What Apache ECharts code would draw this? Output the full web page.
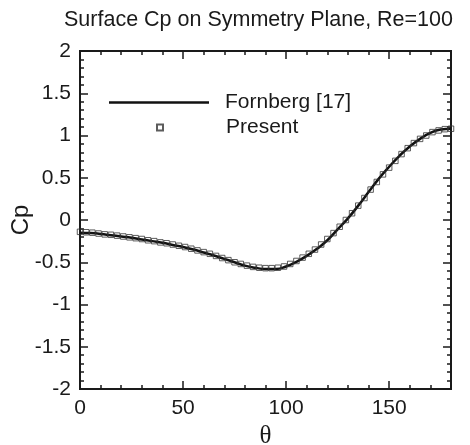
<!DOCTYPE html>
<html>
<head>
<meta charset="utf-8">
<script src="https://cdn.jsdelivr.net/npm/echarts@6/dist/echarts.min.js"></script>
<style>
html,body{margin:0;padding:0;background:#fff;}
#chart{width:470px;height:445px;}
</style>
</head>
<body>
<div id="chart"></div>
<script>
// Fornberg [17] 曲线 (每5度)
var lineTheta = [0,5,10,15,20,25,30,35,40,45,50,55,60,65,70,75,80,85,90,95,100,105,110,115,120,125,130,135,140,145,150,155,160,165,170,175,180];
var lineCp = [-0.15,-0.155,-0.165,-0.18,-0.195,-0.21,-0.23,-0.25,-0.27,-0.295,-0.32,-0.35,-0.385,-0.42,-0.46,-0.50,-0.54,-0.565,-0.58,-0.58,-0.55,-0.495,-0.425,-0.34,-0.24,-0.11,0.02,0.17,0.33,0.49,0.63,0.76,0.87,0.96,1.03,1.07,1.08];
// Present 结果 (每3度)
var presentTheta = [0,3,6,9,12,15,18,21,24,27,30,33,36,39,42,45,48,51,54,57,60,63,66,69,72,75,78,81,84,87,90,93,96,99,102,105,108,111,114,117,120,123,126,129,132,135,138,141,144,147,150,153,156,159,162,165,168,171,174,177,180];
var presentCp = [-0.14,-0.145,-0.15,-0.16,-0.17,-0.175,-0.185,-0.195,-0.205,-0.215,-0.225,-0.24,-0.25,-0.265,-0.275,-0.29,-0.305,-0.32,-0.34,-0.36,-0.38,-0.4,-0.425,-0.45,-0.475,-0.5,-0.52,-0.54,-0.555,-0.565,-0.57,-0.57,-0.565,-0.55,-0.52,-0.485,-0.445,-0.4,-0.35,-0.29,-0.225,-0.155,-0.08,0.0,0.08,0.17,0.26,0.36,0.45,0.54,0.62,0.7,0.78,0.85,0.91,0.96,1.0,1.04,1.06,1.075,1.08];
var xTicks = {min: 0, max: 180, major: 50, minor: 10};
var yTicks = {min: -2, max: 2, major: 0.5, minor: 0.1};

var font = '"Liberation Sans", Arial, sans-serif';
var axisColor = '#1a1a1a';

function zip(a, b) {
    var out = [];
    for (var i = 0; i < a.length; i++) out.push([a[i], b[i]]);
    return out;
}

function makeAxis(kind, pos, t, tickLen, showLabel, extra) {
    var ax = {
        type: 'value',
        position: pos,
        min: t.min,
        max: t.max,
        interval: tickLen > 5 ? t.major : t.minor,
        splitLine: {show: false},
        axisLine: {show: true, onZero: false, lineStyle: {color: axisColor, width: 2}},
        axisTick: {show: true, inside: true, length: tickLen, lineStyle: {color: axisColor, width: 1.5}},
        axisLabel: {show: showLabel, color: '#1a1a1a', fontFamily: font, fontSize: 21, margin: 9, showMaxLabel: kind == 'y'}
    };
    for (var k in extra) ax[k] = extra[k];
    return ax;
}

var myChart = echarts.init(document.getElementById('chart'));
var option = {
    backgroundColor: '#fff',
    animation: false,
    title: {
        text: 'Surface Cp on Symmetry Plane, Re=100',
        left: 59,
        top: 4,
        textStyle: {fontFamily: font, fontSize: 21.5, fontWeight: 'normal', color: '#1a1a1a'}
    },
    legend: [{
        orient: 'vertical',
        left: 104,
        top: 87,
        itemWidth: 100,
        itemHeight: 2.5,
        textStyle: {fontFamily: font, fontSize: 21, color: '#1a1a1a', padding: [0, 0, 0, 11]},
        data: [{name: 'Fornberg [17]', icon: 'rect'}]
    }, {
        orient: 'vertical',
        left: 151,
        top: 112,
        itemWidth: 6,
        itemHeight: 6,
        textStyle: {fontFamily: font, fontSize: 21, color: '#1a1a1a', padding: [0, 0, 0, 58]},
        data: [{name: 'Present', icon: 'rect'}]
    }],
    grid: {left: 80, right: 19, top: 51, bottom: 56, outerBoundsMode: 'none'},
    xAxis: [
        makeAxis('x', 'bottom', xTicks, 8, true, {
            name: 'θ', nameLocation: 'middle', nameGap: 35, nameMoveOverlap: false,
            nameTextStyle: {fontFamily: '"Liberation Serif", "DejaVu Serif", serif', fontSize: 25, color: '#1a1a1a'}
        }),
        makeAxis('x', 'bottom', xTicks, 4, false, {}),
        makeAxis('x', 'top', xTicks, 8, false, {}),
        makeAxis('x', 'top', xTicks, 4, false, {})
    ],
    yAxis: [
        makeAxis('y', 'left', yTicks, 8, true, {
            name: 'Cp', nameLocation: 'middle', nameGap: 47, nameRotate: 90, nameMoveOverlap: false,
            nameTextStyle: {fontFamily: font, fontSize: 24, color: '#1a1a1a'}
        }),
        makeAxis('y', 'left', yTicks, 4, false, {}),
        makeAxis('y', 'right', yTicks, 8, false, {}),
        makeAxis('y', 'right', yTicks, 4, false, {})
    ],
    series: [{
        name: 'Fornberg [17]',
        type: 'line',
        data: zip(lineTheta, lineCp),
        smooth: true,
        symbol: 'none',
        lineStyle: {color: '#111', width: 2.5},
        itemStyle: {color: '#111'},
        z: 2
    }, {
        name: 'Present',
        type: 'scatter',
        data: zip(presentTheta, presentCp),
        symbol: 'rect',
        symbolSize: 5.5,
        itemStyle: {color: 'rgba(255,255,255,0)', borderColor: '#333', borderWidth: 1},
        z: 3
    }]
};
myChart.setOption(option);
</script>
</body>
</html>
